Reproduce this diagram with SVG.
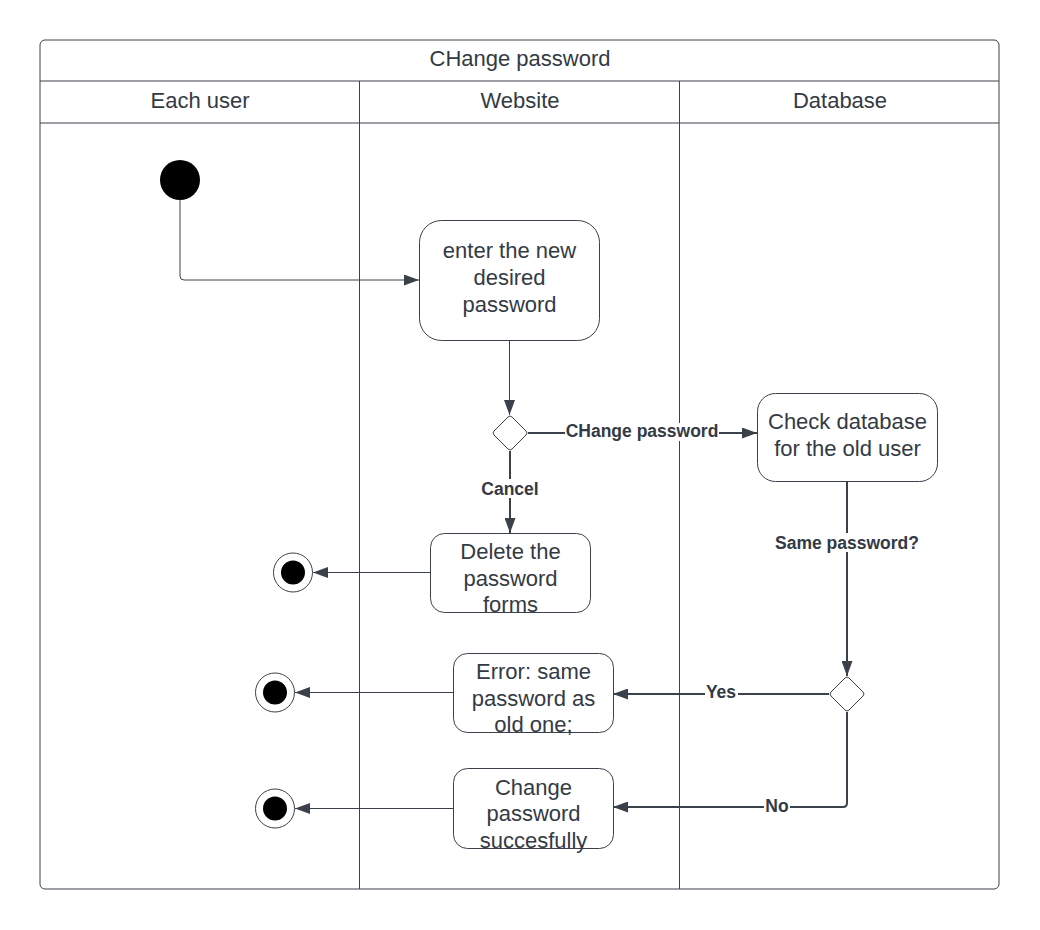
<svg xmlns="http://www.w3.org/2000/svg" width="1040" height="930" viewBox="0 0 1040 930">
  <style>
    .frame { fill: #ffffff; stroke: #3a414a; stroke-width: 1; }
    .lane { stroke: #3a414a; stroke-width: 1; fill: none; }
    .box { fill: #ffffff; stroke: #3a414a; stroke-width: 1; }
    .txt { font-family: "Liberation Sans", Arial, sans-serif; font-size: 22px; fill: #333a44; text-anchor: middle; }
    .hdr { font-family: "Liberation Sans", Arial, sans-serif; font-size: 22px; fill: #333a44; text-anchor: middle; }
    .lbl { font-family: "Liberation Sans", Arial, sans-serif; font-size: 17.5px; font-weight: bold; fill: #333a44; text-anchor: middle; }
    .lblbg { fill: #ffffff; }
    .thin { stroke: #3a414a; stroke-width: 1; fill: none; }
    .thick { stroke: #3a414a; stroke-width: 2; fill: none; }
    .dot { fill: #000000; }
  </style>
  <defs>
    <marker id="arrow" viewBox="0 0 15 11" refX="15" refY="5.5" markerWidth="15" markerHeight="11" markerUnits="userSpaceOnUse" orient="auto">
      <path d="M0,0 L15,5.5 L0,11 Z" fill="#3a414a"/>
    </marker>
  </defs>

  <!-- swimlane frame -->
  <g id="pool">
    <rect class="frame" x="40" y="40" width="959" height="849" rx="5"/>
    <line class="lane" x1="40" y1="81" x2="999" y2="81"/>
    <line class="lane" x1="40" y1="123" x2="999" y2="123"/>
    <line class="lane" x1="359.5" y1="81" x2="359.5" y2="889"/>
    <line class="lane" x1="679.5" y1="81" x2="679.5" y2="889"/>
    <text class="hdr" x="520" y="66">CHange password</text>
    <text class="hdr" x="200" y="108">Each user</text>
    <text class="hdr" x="520" y="108">Website</text>
    <text class="hdr" x="840" y="108">Database</text>
  </g>

  <!-- connectors -->
  <g id="connectors">
    <path class="thin" d="M180,200 L180,276 Q180,280 184,280 L419,280" marker-end="url(#arrow)"/>
    <path class="thin" d="M509.5,340 L509.5,415" marker-end="url(#arrow)"/>
    <path class="thick" d="M528,433 L757,433" marker-end="url(#arrow)"/>
    <path class="thick" d="M510,451 L510,533" marker-end="url(#arrow)"/>
    <path class="thin" d="M430,572.5 L313,572.5" marker-end="url(#arrow)"/>
    <path class="thick" d="M847,481 L847,676" marker-end="url(#arrow)"/>
    <path class="thick" d="M829,694 L613,694" marker-end="url(#arrow)"/>
    <path class="thin" d="M453,692.5 L295,692.5" marker-end="url(#arrow)"/>
    <path class="thick" d="M847,712 L847,803 Q847,807 843,807 L613,807" marker-end="url(#arrow)"/>
    <path class="thin" d="M453,808.5 L295,808.5" marker-end="url(#arrow)"/>

    <rect class="lblbg" x="565" y="423" width="154" height="18"/>
    <text class="lbl" x="642" y="437">CHange password</text>
    <rect class="lblbg" x="478" y="479" width="64" height="19"/>
    <text class="lbl" x="510" y="495">Cancel</text>
    <rect class="lblbg" x="772" y="533" width="150" height="19"/>
    <text class="lbl" x="847" y="549">Same password?</text>
    <rect class="lblbg" x="705" y="684" width="33" height="18"/>
    <text class="lbl" x="721" y="698">Yes</text>
    <rect class="lblbg" x="764" y="797" width="26" height="18"/>
    <text class="lbl" x="777" y="812">No</text>
  </g>

  <!-- nodes -->
  <g id="start">
    <circle class="dot" cx="180" cy="180" r="20"/>
  </g>

  <g id="enter-password">
    <rect class="box" x="419.5" y="220.5" width="180" height="120" rx="22"/>
    <text class="txt" x="509.5" y="258">enter the new</text>
    <text class="txt" x="509.5" y="285">desired</text>
    <text class="txt" x="509.5" y="312">password</text>
  </g>

  <g id="choice">
    <path class="box" d="M512,417 L526,431 Q528,433 526,435 L512,449 Q510,451 508,449 L494,435 Q492,433 494,431 L508,417 Q510,415 512,417 Z"/>
  </g>

  <g id="check-database">
    <rect class="box" x="757.5" y="393.5" width="180" height="88" rx="18"/>
    <text class="txt" x="847.5" y="429">Check database</text>
    <text class="txt" x="847.5" y="456">for the old user</text>
  </g>

  <g id="delete-forms">
    <rect class="box" x="430.5" y="533.5" width="160" height="79" rx="14"/>
    <text class="txt" x="510.5" y="559">Delete the</text>
    <text class="txt" x="510.5" y="586">password</text>
    <text class="txt" x="510.5" y="612">forms</text>
  </g>

  <g id="end-cancel">
    <circle class="box" cx="293" cy="572.5" r="19.5"/>
    <circle class="dot" cx="293" cy="572.5" r="12"/>
  </g>

  <g id="same-check">
    <path class="box" d="M849,678 L863,692 Q865,694 863,696 L849,710 Q847,712 845,710 L831,696 Q829,694 831,692 L845,678 Q847,676 849,678 Z"/>
  </g>

  <g id="error-same">
    <rect class="box" x="453.5" y="653.5" width="160" height="79" rx="14"/>
    <text class="txt" x="533.5" y="679">Error: same</text>
    <text class="txt" x="533.5" y="706">password as</text>
    <text class="txt" x="533.5" y="732">old one;</text>
  </g>

  <g id="end-error">
    <circle class="box" cx="275" cy="692.5" r="19.5"/>
    <circle class="dot" cx="275" cy="692.5" r="12"/>
  </g>

  <g id="change-success">
    <rect class="box" x="453.5" y="768.5" width="160" height="80" rx="14"/>
    <text class="txt" x="533.5" y="795">Change</text>
    <text class="txt" x="533.5" y="821">password</text>
    <text class="txt" x="533.5" y="848">succesfully</text>
  </g>

  <g id="end-success">
    <circle class="box" cx="275" cy="808.5" r="19.5"/>
    <circle class="dot" cx="275" cy="808.5" r="12"/>
  </g>
</svg>
